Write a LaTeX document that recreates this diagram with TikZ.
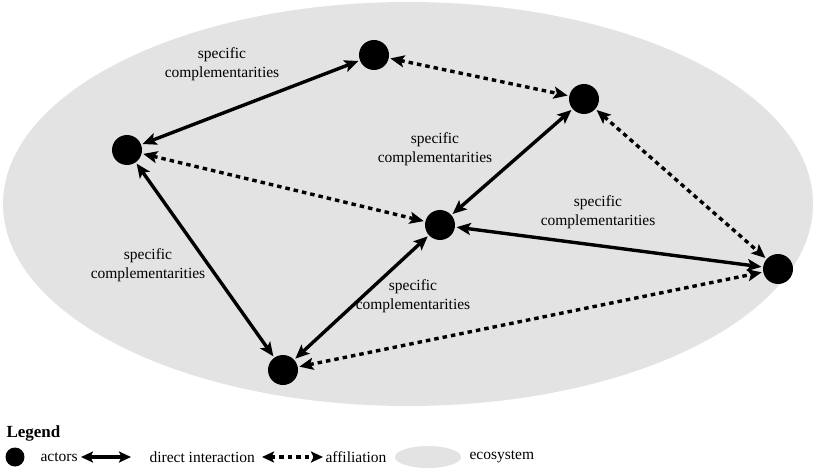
\documentclass[tikz,border=0pt]{standalone}
\usepackage{fontspec}
\setmainfont{Liberation Serif}
\usetikzlibrary{arrows.meta}
\definecolor{ecogray}{RGB}{227,227,227}
\tikzset{
actor/.style={circle,fill=black,inner sep=0pt,minimum size=30pt},
direct/.style={line width=3.4pt,{Stealth[length=14pt,width=12pt,inset=3pt]}-{Stealth[length=14pt,width=12pt,inset=3pt]},shorten <=1.5pt,shorten >=1.5pt},
affil/.style={direct,dash pattern=on 4.5pt off 4pt},
compl/.style={align=center,font=\fontsize{15.5}{19}\selectfont},
legtext/.style={anchor=west,font=\fontsize{15.5}{19}\selectfont}
}

\begin{document}
\begin{tikzpicture}[x=1pt,y=-1pt]
\useasboundingbox (0,0) rectangle (818,470);
% ecosystem
\fill[ecogray] (408,204) ellipse [x radius=405,y radius=202];
%
\node[actor] (a) at (374,55) {};
\node[actor] (b) at (584,99) {};
\node[actor] (c) at (127,150) {};
\node[actor] (d) at (440,225) {};
\node[actor] (e) at (778,269) {};
\node[actor] (f) at (283,370) {};
%
\draw[direct] (a) -- (c);
\draw[direct] (b) -- (d);
\draw[direct] (d) -- (e);
\draw[direct] (c) -- (f);
\draw[direct] (d) -- (f);
\draw[affil] (a) -- (b);
\draw[affil] (c) -- (d);
\draw[affil] (b) -- (e);
\draw[affil] (f) -- (e);
%
\node[compl] (sac) at (222,64) {specific\\complementarities};
\node[compl] (sbd) at (435,149) {specific\\complementarities};
\node[compl] (sde) at (598,212) {specific\\complementarities};
\node[compl] (scf) at (148,265) {specific\\complementarities};
\node[compl] (sdf) at (413,296) {specific\\complementarities};
% legend
\node[anchor=west,font=\fontsize{17}{20}\selectfont\bfseries] (leg) at (3,433) {Legend};
\node[actor,minimum size=19pt] (lact) at (15,457) {};
\node[legtext] (tact) at (37,457) {actors};
\coordinate (ld1) at (81,457);
\coordinate (ld2) at (131,457);
\draw[direct,{Stealth[length=12pt,width=11pt,inset=2.5pt]}-{Stealth[length=12pt,width=11pt,inset=2.5pt]},shorten <=0pt,shorten >=0pt] (ld1) -- (ld2);
\node[legtext] (tdir) at (146,457) {direct interaction};
\coordinate (la1) at (262,457);
\coordinate (la2) at (323,457);
\draw[affil,{Stealth[length=12pt,width=11pt,inset=2.5pt]}-{Stealth[length=12pt,width=11pt,inset=2.5pt]},shorten <=0pt,shorten >=0pt] (la1) -- (la2);
\node[legtext] (taff) at (322,457) {affiliation};
\fill[ecogray] (428,457) ellipse [x radius=33,y radius=11];
\node[legtext] (teco) at (466,457) {ecosystem};
\end{tikzpicture}
\end{document}
